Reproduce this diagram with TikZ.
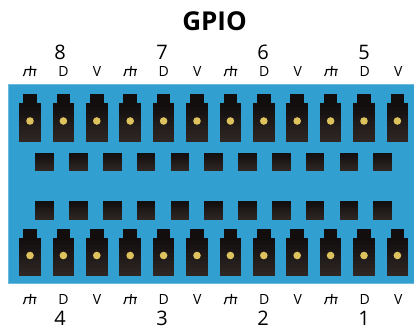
\documentclass[tikz,border=0pt]{standalone}
\usepackage{fontspec}
\setmainfont{Open Sans}
\definecolor{board}{HTML}{319FD0}
\definecolor{boardedge}{HTML}{6DB8DC}
\definecolor{pindark}{HTML}{120E0E}
\definecolor{pinlight}{HTML}{2E2623}
\definecolor{pad}{HTML}{DDC25E}
\tikzset{
  x=1pt,y=-1pt,
  plate/.style={fill=board,draw=none},
  neckshape/.style={fill=pindark,draw=none},
  paddot/.style={fill=pad,draw=none},
  pinlabel/.style={font=\fontsize{14}{15}\selectfont,text=black,inner sep=0pt,anchor=center},
  grouplabel/.style={font=\fontsize{20}{21}\selectfont,text=black,inner sep=0pt,anchor=center},
  titlelabel/.style={font=\fontsize{26}{28}\selectfont\bfseries,text=black,inner sep=0pt,anchor=center},
  gndmark/.style={line width=1.2pt,draw=black,line cap=butt}
}
% vertical dark-to-brown gradient built from overlapping plain strips
\newcommand{\gradrect}[4]{%
  \foreach \k in {0,...,9}{
    \pgfmathsetmacro{\ytop}{(#2)+((#4)-(#2))*\k/10}
    \pgfmathtruncatemacro{\pct}{\k*11}
    \fill[pinlight!\pct!pindark] (#1,\ytop) rectangle (#3,#4);
  }
}
\newcommand{\pincol}[2]{%
  \fill[neckshape] (#1-6.8,#2) rectangle (#1+6.8,#2+9.5);
  \gradrect{#1-10.8}{#2+9}{#1+10.8}{#2+47.5}
  \fill[paddot] (#1,#2+27) circle (3.8);
}
\newcommand{\gndsym}[2]{%
  \begin{scope}[shift={(#1,#2)}]
    \draw[gndmark] (-5.2,-1.2) .. controls (-2,-1.8) and (3,-1.8) .. (6.5,-1.4);
    \draw[gndmark] (0.8,-5) -- (-0.2,5);
    \draw[gndmark] (-4.6,-1.4) .. controls (-4.8,1) and (-5.4,3) .. (-6.6,5);
    \draw[gndmark] (5,-1.5) -- (4.4,5);
  \end{scope}
}
\begin{document}
\begin{tikzpicture}
\useasboundingbox (0,0) rectangle (414,327);
\fill[plate] (7.5,84) rectangle (414,284);
\fill[boardedge] (7.5,84) rectangle (414,84.8);
\fill[boardedge] (7.5,283.2) rectangle (414,284);
\fill[boardedge] (7.5,84) rectangle (8,284);
\foreach \i in {0,...,11}{
  \pgfmathsetmacro{\cx}{30+33.4*\i}
  \pincol{\cx}{94}
  \pincol{\cx}{228.5}
}
\foreach \i in {0,...,10}{
  \pgfmathsetmacro{\sx}{35.4+33.8*\i}
  \gradrect{\sx}{152.5}{\sx+18.6}{171}
  \gradrect{\sx}{201}{\sx+18.6}{219.7}
}
\node[titlelabel] (title) at (214.5,21) {GPIO};
\foreach \n/\x in {8/60,7/162,6/263,5/364}{
  \node[grouplabel] (top\n) at (\x,52) {\n};
}
\foreach \n/\x in {4/60,3/162,2/263,1/364}{
  \node[grouplabel] (bot\n) at (\x,318.5) {\n};
}
\foreach \i in {0,1,2,3}{
  \pgfmathsetmacro{\gx}{30+100.4*\i}
  \pgfmathsetmacro{\dx}{63.4+100.4*\i}
  \pgfmathsetmacro{\vx}{97+100.4*\i}
  \gndsym{\gx}{71}
  \node[pinlabel] (dt\i) at (\dx,71) {D};
  \node[pinlabel] (vt\i) at (\vx,71) {V};
  \gndsym{\gx}{299}
  \node[pinlabel] (db\i) at (\dx,299) {D};
  \node[pinlabel] (vb\i) at (\vx,299) {V};
}
\end{tikzpicture}
\end{document}
